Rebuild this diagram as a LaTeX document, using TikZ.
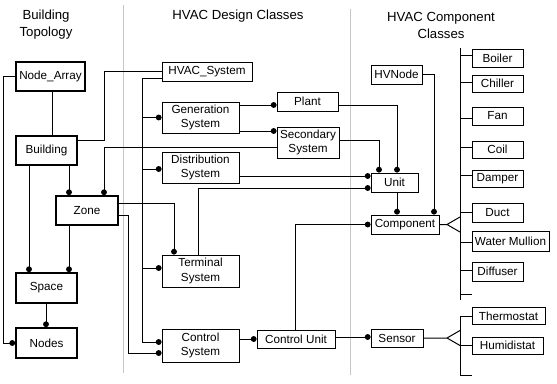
\documentclass[tikz,border=0pt]{standalone}
\usepackage{fontspec}
\setmainfont{Liberation Sans}
\usetikzlibrary{arrows.meta}
\begin{document}
\begin{tikzpicture}[x=1pt,y=-1pt,
 lab/.style={font=\fontsize{11.7}{14.5}\selectfont},
 hdr/.style={font=\fontsize{13.2}{17}\selectfont, align=center, inner sep=0},
 thk/.style={draw, line width=1.7pt, inner sep=0, align=center, lab},
 thn/.style={draw, line width=0.85pt, inner sep=0, align=center, lab},
 con/.style={line width=1pt},
 dotc/.style={con, -{Circle[length=5.8pt,width=5.8pt]}},
 sep/.style={draw=black!22, line width=0.8pt}]
\useasboundingbox (0,0) rectangle (557,383);
% separators
\draw[sep] (123,5) -- (123,373);
\draw[sep] (350,9) -- (350,375);
% headers
\node[hdr] (h1) at (46,25) {Building\\Topology};
\node[hdr] (h2) at (238,16.5) {HVAC Design Classes};
\node[hdr] (h3) at (441,25.5) {HVAC Component\\Classes};
% building topology
\node[thk, minimum width=69, minimum height=29] (na) at (50.5,76.5) {Node\_Array};
\node[thk, minimum width=61, minimum height=29] (bld) at (46.5,150.5) {Building};
\node[thk, minimum width=62, minimum height=29] (zone) at (87,210.5) {Zone};
\node[thk, minimum width=61, minimum height=30] (space) at (46.5,288) {Space};
\node[thk, minimum width=61, minimum height=30] (nodes) at (46.5,343) {Nodes};
% design classes
\node[thn, minimum width=90, minimum height=19] (hvac) at (207,71.5) {HVAC\_System};
\node[thn, minimum width=77, minimum height=31] (gen) at (200.5,117.5) {Generation\\System};
\node[thn, minimum width=77, minimum height=31] (dist) at (200.5,167.5) {Distribution\\System};
\node[thn, minimum width=77, minimum height=32] (term) at (200.5,271) {Terminal\\System};
\node[thn, minimum width=77, minimum height=33] (ctrl) at (200.5,345.5) {Control\\System};
\node[thn, minimum width=78, minimum height=18] (cu) at (296,339) {Control Unit};
\node[thn, minimum width=61, minimum height=19] (plant) at (307.5,101.5) {Plant};
\node[thn, minimum width=62, minimum height=31] (sec) at (308,142.5) {Secondary\\System};
% component classes
\node[thn, minimum width=47, minimum height=19] (unit) at (394.5,182.5) {Unit};
\node[thn, minimum width=51, minimum height=19] (hvn) at (396.5,74.5) {HVNode};
\node[thn, minimum width=68, minimum height=19] (comp) at (405,224.5) {Component};
\node[thn, minimum width=52, minimum height=18] (sensor) at (397,338) {Sensor};
\node[thn, minimum width=51, minimum height=18] (boiler) at (497.5,58) {Boiler};
\node[thn, minimum width=51, minimum height=17] (chiller) at (497.5,83.5) {Chiller};
\node[thn, minimum width=51, minimum height=18] (fan) at (497.5,116) {Fan};
\node[thn, minimum width=51, minimum height=17] (coil) at (497.5,149.5) {Coil};
\node[thn, minimum width=51, minimum height=17] (damper) at (497.5,178.5) {Damper};
\node[thn, minimum width=51, minimum height=19] (duct) at (497.5,212.5) {Duct};
\node[thn, minimum width=77, minimum height=20] (wm) at (510.5,241) {Water Mullion};
\node[thn, minimum width=51, minimum height=19] (diff) at (497.5,271.5) {Diffuser};
\node[thn, minimum width=73, minimum height=17] (thermo) at (508.5,316) {Thermostat};
\node[thn, minimum width=71, minimum height=17] (humid) at (507.5,345.5) {Humidistat};
% topology connectors
\draw[con] (na.south -| 52,0) -- (bld.north -| 52,0);
\draw[dotc] (na.west) -- ++(-12,0) |- (nodes.west);
\draw[dotc] (bld.south -| 29,0) -- (space.north -| 29,0);
\draw[dotc] (bld.south -| 69,0) -- (zone.north -| 69,0);
\draw[con] (bld.east |- 0,140) -- (104,140) |- (hvac.west |- 0,71);
\draw[dotc] (sec.west |- 0,147) -| (zone.north -| 104,0);
\draw[dotc] (zone.east |- 0,203) -| (term.north -| 174,0);
\draw[dotc] (zone.east |- 0,215) -- (128,215) |- (ctrl.west |- 0,353);
\draw[dotc] (zone.south -| 69,0) -- (space.north -| 69,0);
\draw[dotc] (space.south -| 46,0) -- (nodes.north -| 46,0);
% design connectors
\coordinate (trk) at (142,0);
\draw[con] (hvac.west |- 0,78) -| (trk |- 0,342);
\draw[dotc] (trk |- gen.west) -- (gen.west);
\draw[dotc] (trk |- 0,169) -- (dist.west |- 0,169);
\draw[dotc] (trk |- 0,268) -- (term.west |- 0,268);
\draw[dotc] (trk |- 0,342) -- (ctrl.west |- 0,342);
\draw[dotc] (gen.east |- 0,105) -- (plant.west |- 0,105);
\draw[dotc] (gen.east |- 0,131) -- (sec.west |- 0,131);
\draw[dotc] (dist.east |- 0,176) -- (unit.west |- 0,176);
\draw[dotc] (term.north -| 198,0) |- (unit.west |- 0,188);
\draw[dotc] (plant.east |- 0,105) -| (unit.north -| 397,0);
\draw[dotc] (sec.east |- 0,140) -| (unit.north -| 379,0);
\draw[dotc] (unit.south -| 397,0) -- (comp.north -| 397,0);
\draw[dotc] (hvn.east |- 0,74) -| (comp.north -| 434,0);
\draw[dotc] (cu.north -| 295,0) |- (comp.west);
\draw[dotc] (ctrl.east |- 0,339) -- (cu.west |- 0,339);
\draw[dotc] (cu.east |- 0,337) -- (sensor.west |- 0,337);
% generalization: component
\coordinate (gc) at (460,0);
\draw[con] (comp.east) -- (447,224.5) -- (460,217) (447,224.5) -- (460,232);
\draw[con] (gc |- 0,48) -- (gc |- 0,300);
\draw[con] (gc |- 0,55) -- (boiler.west |- 0,55);
\draw[con] (gc |- 0,82) -- (chiller.west |- 0,82);
\draw[con] (gc |- 0,118) -- (fan.west |- 0,118);
\draw[con] (gc |- 0,147) -- (coil.west |- 0,147);
\draw[con] (gc |- 0,175) -- (damper.west |- 0,175);
\draw[con] (gc |- 0,212) -- (duct.west |- 0,212);
\draw[con] (gc |- 0,242) -- (wm.west |- 0,242);
\draw[con] (gc |- 0,270) -- (diff.west |- 0,270);
\draw[con] (gc |- 0,294) -- (472,294);
% generalization: sensor
\draw[con] (sensor.east) -- (447,338) -- (460,330.5) (447,338) -- (460,345.5);
\draw[con] (thermo.west) -| (gc |- 0,375) -- (472,375);
\draw[con] (gc |- humid.west) -- (humid.west);
\end{tikzpicture}
\end{document}
